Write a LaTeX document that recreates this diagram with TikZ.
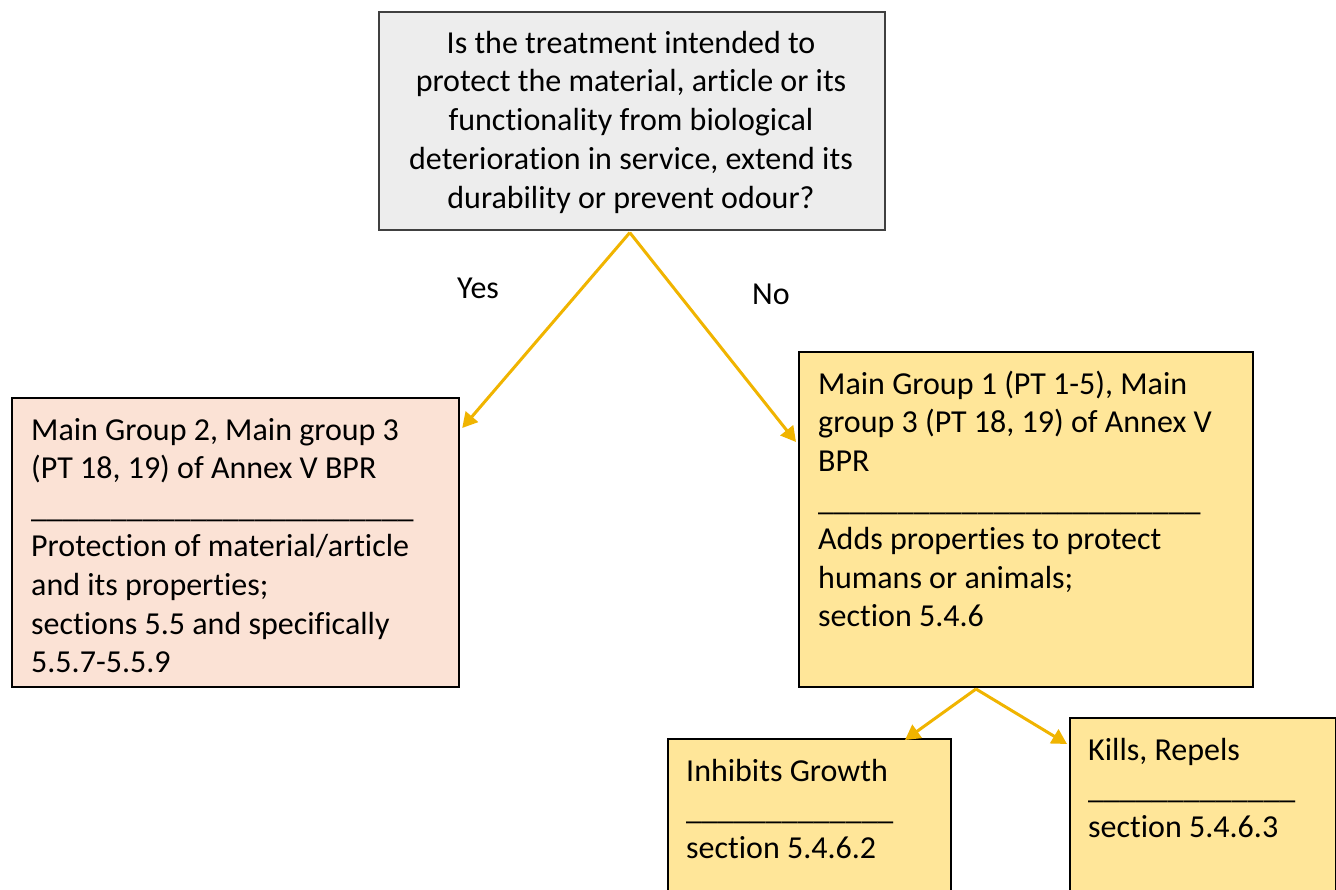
\documentclass[tikz,border=0pt]{standalone}
\usepackage{fontspec}
\setmainfont{Carlito}[Ligatures={NoCommon}]
\usetikzlibrary{arrows.meta,calc}
\definecolor{topfill}{HTML}{EDEDED}
\definecolor{topdraw}{HTML}{404040}
\definecolor{peach}{HTML}{FBE2D5}
\definecolor{lightgold}{HTML}{FFE699}
\definecolor{arrowgold}{RGB}{240,180,0}
\tikzset{
  box/.style={draw=black, line width=2.2pt, anchor=north west, inner sep=0pt},
  boxtext/.style={anchor=north west, inner sep=0pt, align=left,
    font=\fontsize{32}{38.8}\selectfont},
  conn/.style={draw=arrowgold, line width=3pt, -{Triangle[length=15pt,width=16pt]}},
  lbl/.style={anchor=base west, inner sep=0pt, font=\fontsize{32}{38.8}\selectfont}
}
\begin{document}
\begin{tikzpicture}[x=1pt,y=-1pt]
\useasboundingbox (0,0) rectangle (1336,890);
\clip (0,0) rectangle (1336,890);
% top question box
\node[box, draw=topdraw, line width=1.6pt, fill=topfill, minimum width=506pt, minimum height=218pt] (Q) at (378,11) {};
\node[anchor=north, inner sep=0pt, align=center, font=\fontsize{32}{38.8}\selectfont] (Qt) at (631,43-17.2)
  {\strut Is the treatment intended to\\ protect the material, article or its\\ functionality from biological\\ deterioration in service, extend its\\ durability or prevent odour?};
% left box
\node[box, fill=peach, minimum width=447pt, minimum height=289pt] (L) at (11,397) {};
\node[boxtext] (Lt) at (31,430-17.2)
  {\strut Main Group 2, Main group 3\\ (PT 18, 19) of Annex V BPR\\ \_\_\_\_\_\_\_\_\_\_\_\_\_\_\_\_\_\_\_\_\_\_\_\_\\ Protection of material/article\\ and its properties;\\ sections 5.5 and specifically\\ 5.5.7-5.5.9};
% right box
\node[box, fill=lightgold, minimum width=454pt, minimum height=335pt] (R) at (798,351) {};
\node[boxtext] (Rt) at (818,384-17.2)
  {\strut Main Group 1 (PT 1-5), Main\\ group 3 (PT 18, 19) of Annex V\\ BPR\\ \_\_\_\_\_\_\_\_\_\_\_\_\_\_\_\_\_\_\_\_\_\_\_\_\\ Adds properties to protect\\ humans or animals;\\ section 5.4.6};
% bottom left box
\node[box, fill=lightgold, minimum width=283pt, minimum height=200pt] (BL) at (667,738) {};
\node[boxtext] (BLt) at (686,771-17.2)
  {\strut Inhibits Growth\\ \_\_\_\_\_\_\_\_\_\_\_\_\_\\ section 5.4.6.2};
% bottom right box
\node[box, fill=lightgold, minimum width=266pt, minimum height=220pt] (BR) at (1069,717) {};
\node[boxtext] (BRt) at (1088,750-17.2)
  {\strut Kills, Repels\\ \_\_\_\_\_\_\_\_\_\_\_\_\_\\ section 5.4.6.3};
% labels
\node[lbl] (yes) at (457,299) {Yes};
\node[lbl] (no) at (752,305) {No};
% connector end points
\coordinate (qs) at ($(Q.south)+(-2,2)$);
\coordinate (lend) at ($(L.north east)+(2,31)$);
\coordinate (rend) at ($(R.north west)+(-2,91)$);
\coordinate (rs) at ($(R.north west)+(178,338)$);
\coordinate (blend) at ($(BL.north west)+(238,2)$);
\coordinate (brend) at ($(BR.north west)+(-2,27)$);
\draw[conn] (qs) -- (lend);
\draw[conn] (qs) -- (rend);
\draw[conn] (rs) -- (blend);
\draw[conn] (rs) -- (brend);
\end{tikzpicture}
\end{document}
